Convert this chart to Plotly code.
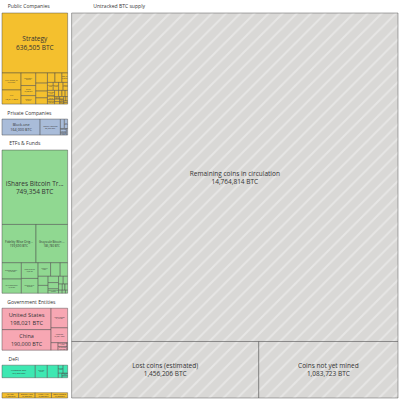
import plotly.graph_objects as go

# ---------------- data ----------------
group_names = ["Public Companies", "Private Companies", "ETFs & Funds",
               "Government Entities", "DeFi", "Other", "Untracked BTC supply"]
group_colors = ["#F4C02E", "#A9BCD9", "#90D891", "#F7A7B3", "#3EE8B2", "#F4BE2C", "#D9D8D6"]

public_names = ["Strategy", "MARA Holdings, Inc.", "XXI", "Bitcoin Standard Treasury Co.",
                "Bullish", "Metaplanet Inc.", "Riot Platforms, Inc.", "Trump Media & Technology",
                "CleanSpark, Inc.", "Coinbase Global, Inc.", "Tesla, Inc.", "Hut 8 Corp",
                "Block, Inc.", "GD Culture Group", "Galaxy Digital", "Next Technology Holding",
                "Cango Inc", "KindlyMD / Nakamoto", "Semler Scientific", "ProCap BTC",
                "Empery Digital", "Boyaa Interactive", "Sequans Communications",
                "The Smarter Web Company", "Capital B", "Exodus Movement", "Bitdeer Technologies",
                "NEXON Co. Ltd", "BitFuFu", "Canaan Inc.", "Fold Holdings", "Remixpoint",
                "KULR Technology", "H100 Group"]
public_values = [636505, 52477, 43514, 30021, 24000, 20136, 19239, 15000, 12827, 11776,
                 11509, 10667, 8692, 7500, 6894, 5833, 5810, 5744, 5021, 4932, 4019, 3351,
                 3170, 2440, 2201, 2038, 2000, 1717, 1709, 1511, 1488, 1300, 1021, 911]

private_names = ["Block.one", "Tether Holdings", "Stone Ridge Holdings", "SpaceX",
                 "Xapo Bank", "MassMutual", "Tezos Foundation"]
private_values = [164000, 87296, 10000, 8285, 7000, 3530, 2200]

etf_names = ["iShares Bitcoin Trust", "Fidelity Wise Origin Bitcoin Fund",
             "Grayscale Bitcoin Trust", "Grayscale Bitcoin Mini Trust",
             "ARK 21Shares Bitcoin ETF", "Bitwise Bitcoin ETF", "CoinShares XBT Provider",
             "Purpose Bitcoin ETF", "21Shares Bitcoin ETP", "VanEck Bitcoin ETF",
             "Fidelity Advantage Bitcoin ETF", "ETC Group Physical Bitcoin",
             "3iQ Bitcoin ETF", "WisdomTree Physical Bitcoin", "Franklin Bitcoin ETF",
             "Invesco Galaxy Bitcoin ETF", "CoinShares Valkyrie Bitcoin", "WisdomTree Bitcoin Fund",
             "CI Galaxy Bitcoin ETF", "ChinaAMC Bitcoin ETF", "Evolve Bitcoin ETF",
             "Osprey Bitcoin Trust", "Bosera HashKey Bitcoin ETF"]
etf_values = [749354, 199690, 185780, 48459, 42193, 40384, 38000, 26000, 20000, 15400,
              14000, 12000, 10000, 10000, 7000, 5620, 5200, 3600, 2500, 2500, 1700, 1500, 1000]

gov_names = ["United States", "China", "United Kingdom", "Ukraine", "Bhutan",
             "United Arab Emirates", "El Salvador", "North Korea"]
gov_values = [198021, 190000, 61245, 46351, 9969, 6420, 6244, 803]

defi_names = ["Wrapped BTC", "Binance Bitcoin", "Coinbase Wrapped BTC", "Solv Protocol",
              "Lombard Staked BTC", "Lightning Network", "Threshold tBTC", "RSK Bridge"]
defi_values = [127268, 46000, 42000, 12000, 11000, 5100, 4500, 3000]

other_names = ["Mt. Gox", "Bitfinex Hack", "Huobi / HTX", "Other holders"]
other_values = [47000, 46500, 46000, 45500]

untracked_names = ["Remaining coins in circulation", "Lost coins (estimated)", "Coins not yet mined"]
untracked_values = [14764814, 1456206, 1083723]

children = [
    (public_names, public_values),
    (private_names, private_values),
    (etf_names, etf_values),
    (gov_names, gov_values),
    (defi_names, defi_values),
    (other_names, other_values),
    (untracked_names, untracked_values),
]

UNTRACKED = "Untracked BTC supply"
HIDDEN_HEADER = "Other"
FONT = 6.5
PAD_T = 13
PAD_B = 2
HEADER_SCALE = 0.82     # approx. shrink plotly applies to header text
NBSP_EM = 0.275
CLEAR = "<span style='color:rgba(255,255,255,0)'>%s</span>"


def short(name, n=18):
    return name if len(name) <= n + 2 else name[:n] + "..."


def text_em(s):
    w = 0.0
    for ch in s:
        if ch in "ilj.,'":
            w += 0.27
        elif ch in "ftr":
            w += 0.38
        elif ch in "mw":
            w += 0.85
        elif ch == " ":
            w += 0.26
        elif ch == "&":
            w += 0.72
        elif ch.isupper():
            w += 0.64
        else:
            w += 0.56
    return w


def header_label(label, avail_px):
    # plotly centres headers; pad with invisible text so it reads left-aligned
    if label == HIDDEN_HEADER:
        return CLEAR % label
    eff = FONT * HEADER_SCALE
    need = avail_px * 0.98 / eff - text_em(label) - 0.27
    n = max(0, int(need / NBSP_EM))
    safe = label.replace("&", "&amp;")
    if n == 0:
        return safe
    return safe + CLEAR % ("\u00a0" * n + ".")


tracked_total = sum(sum(v) for _, v in children[:-1])
grand_total = tracked_total + sum(untracked_values)

ids, labels, parents, values, colors = ["root"], [""], [""], [0], ["#ffffff"]
templates, shapes, line_colors = [" "], [""], ["#ffffff"]
for g, col, (names, vals) in zip(group_names, group_colors, children):
    share = (sum(untracked_values) if g == UNTRACKED else tracked_total) / grand_total
    ids.append(g)
    labels.append(header_label(g, 400 * share - 10))
    parents.append("root")
    values.append(0)
    colors.append("#ffffff")
    templates.append("%{label}")
    shapes.append("")
    line_colors.append("#ffffff")
    for nm, v in zip(names, vals):
        ids.append(g + "/" + nm)
        labels.append(nm if g == UNTRACKED else short(nm))
        parents.append(g)
        values.append(v)
        colors.append(col)
        templates.append("%{label}<br>%{value:,} BTC")
        shapes.append("/" if g == UNTRACKED else "")
        line_colors.append("rgba(70,70,70,0.45)")

fig = go.Figure(go.Treemap(
    ids=ids,
    labels=labels,
    parents=parents,
    values=values,
    branchvalues="remainder",
    sort=False,
    texttemplate=templates,
    textposition="middle center",
    hoverinfo="skip",
    textfont=dict(family="Open Sans", size=FONT, color="#333333"),
    insidetextfont=dict(family="Open Sans", size=FONT, color="#333333"),
    outsidetextfont=dict(family="Open Sans", size=FONT, color="#333333"),
    marker=dict(
        colors=colors,
        line=dict(color=line_colors, width=1),
        pattern=dict(shape=shapes, bgcolor=colors, fgcolor="#f4f4f4",
                     fgopacity=0.5, size=10, solidity=0.2),
        pad=dict(t=PAD_T, l=2, r=2, b=PAD_B),
    ),
    pathbar=dict(visible=False),
    tiling=dict(pad=0, squarifyratio=1.618),
))

# root content area is kept square (400 x 400) so the top-level split stays vertical
fig.update_layout(
    width=404, height=400 + PAD_T + PAD_B,
    margin=dict(l=0, r=0, t=0, b=0),
    paper_bgcolor="#ffffff",
    hovermode=False,
    font=dict(family="Open Sans", color="#333333"),
)

fig.write_html(
    "out.html",
    config={"displayModeBar": False, "staticPlot": True},
    post_script=("document.body.style.margin='0';"
                 "var d=document.getElementById('{plot_id}');"
                 "d.style.marginTop='-%dpx';d.style.marginLeft='-2px';" % PAD_T),
)
